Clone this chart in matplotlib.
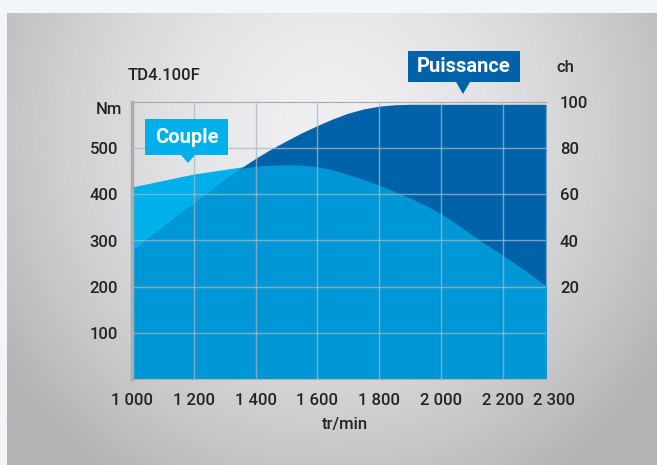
import numpy as np
import matplotlib
matplotlib.use("Agg")
import matplotlib.pyplot as plt
from matplotlib.patches import Polygon
from matplotlib.transforms import ScaledTranslation

plt.rcParams['font.family'] = ['Roboto', 'DejaVu Sans']
plt.rcParams['font.weight'] = 'medium'

# data
rpm = [1000, 1050, 1100, 1150, 1200, 1250, 1300, 1350, 1400, 1450, 1500, 1550, 1600,
       1650, 1700, 1750, 1800, 1850, 1900, 1950, 2000, 2050, 2100, 2150, 2200, 2250, 2300]
torque_nm = [416, 423, 430, 437, 444, 449, 454, 459, 461, 463, 464, 463, 460,
             453, 443, 432, 420, 406, 392, 376, 358, 336, 312, 290, 268, 236, 202]
power_ch = [35.3, 40.8, 46.0, 51.2, 56.2, 61.2, 66.3, 71.2, 75.6, 79.6, 83.2, 86.7, 89.8,
            92.7, 95.2, 97.0, 98.2, 98.8, 99, 99, 99, 99, 99, 99, 99, 99, 99]

x_ticks = [1000, 1200, 1400, 1600, 1800, 2000, 2200, 2300]
x_labels = ['1 000', '1 200', '1 400', '1 600', '1 800', '2 000', '2 200', '2 300']
nm_ticks = [100, 200, 300, 400, 500]
ch_ticks = [20, 40, 60, 80, 100]

C_TORQUE = '#00b0ea'
C_POWER = '#0063aa'
C_BOTH = '#0097d7'
TXT = '#232323'

W, H = 657, 465
fig = plt.figure(figsize=(W / 100, H / 100), dpi=100)
fig.patch.set_facecolor('#f3f6f8')

# gray gradient panel behind the chart
bg = fig.add_axes([0, 0, 1, 1], zorder=-10)
bg.set_xlim(0, W)
bg.set_ylim(H, 0)
bg.axis('off')
yy, xx = np.mgrid[14:H, 7:W]
d = np.sqrt(((xx - 330) / 360.0) ** 2 + ((yy - 130) / 380.0) ** 2)
shade = np.clip(240 - 52 * d ** 1.6, 180, 240) / 255.0
img = np.dstack([shade, shade, shade * 1.005 + 0.004])
bg.imshow(np.clip(img, 0, 1), extent=(7, W, H, 14), aspect='auto', interpolation='bilinear')


# the last column (2200 -> 2300) is drawn wider than the others
def fwd(x):
    x = np.asarray(x, dtype=float)
    return np.where(x <= 2200, x, 2200 + (x - 2200) * 1.4)


def inv(x):
    x = np.asarray(x, dtype=float)
    return np.where(x <= 2200, x, 2200 + (x - 2200) / 1.4)


ax = fig.add_axes([132 / W, 1 - 379 / H, 414 / W, 277 / H])
ax.set_facecolor('none')
ax.set_xscale('function', functions=(fwd, inv))
ax.set_xlim(1000, 2300)
ax.set_ylim(0, 600)

ax2 = ax.twinx()
ax2.set_ylim(-20, 100)

# power curve expressed on the Nm axis through the two axes transforms
fig.canvas.draw()
pts = ax2.transData.transform(np.column_stack([rpm, power_ch]))
power_on_nm = ax.transData.inverted().transform(pts)[:, 1]

ax.fill_between(rpm, 0, torque_nm, color=C_TORQUE, lw=0, zorder=1)
ax.fill_between(rpm, 0, power_on_nm, color=C_POWER, lw=0, zorder=1.1)
ax.fill_between(rpm, 0, np.minimum(torque_nm, power_on_nm), color=C_BOTH, lw=0, zorder=1.2)

ax.set_axisbelow(False)
ax.grid(True, color='#a9b6c2', alpha=0.75, lw=1)
ax.set_xticks(x_ticks)
ax.set_xticklabels(x_labels)
ax.set_yticks(nm_ticks)
ax.tick_params(length=0, labelsize=12, labelcolor=TXT)
ax.tick_params(axis='x', pad=10)
ax.tick_params(axis='y', pad=10)
ax.spines['left'].set_color('#a8a8a8')
ax.spines['left'].set_linewidth(2.5)
ax.spines['bottom'].set_color('#b0b0b0')
ax.spines['top'].set_color('#a9a9a9')
ax.spines['right'].set_visible(False)

lab = ax.get_xticklabels()[-1]
lab.set_transform(lab.get_transform() + ScaledTranslation(8 / 100, 0, fig.dpi_scale_trans))

ax2.set_yticks(ch_ticks)
ax2.tick_params(length=0, labelsize=12, labelcolor=TXT, pad=10)
for s in ax2.spines.values():
    s.set_visible(False)

fig.text(122 / W, 1 - 110 / H, 'Nm', ha='right', va='center', fontsize=12, color=TXT)
fig.text(556 / W, 1 - 68 / H, 'ch', ha='left', va='center', fontsize=12, color=TXT)
fig.text(128 / W, 1 - 76 / H, 'TD4.100F', ha='left', va='center', fontsize=12, color=TXT)
fig.text(345 / W, 1 - 424 / H, 'tr/min', ha='center', va='center', fontsize=12, color=TXT)


def callout(x0, x1, y0, y1, tip, text, color):
    tx, ty = tip
    p = [(x0, y0), (x1, y0), (x1, y1), (tx + 7, y1), (tx, ty), (tx - 7, y1), (x0, y1)]
    p = [(px / W, 1 - py / H) for px, py in p]
    fig.patches.append(Polygon(p, closed=True, transform=fig.transFigure,
                               facecolor=color, edgecolor='none', zorder=5))
    fig.text((x0 + x1) / 2 / W, 1 - (y0 + y1) / 2 / H, text, ha='center', va='center',
             fontsize=14.5, fontweight='bold', color='white', zorder=6)


callout(145, 228, 119, 155, (188, 163), 'Couple', C_TORQUE)
callout(408, 520, 51, 82, (463, 94), 'Puissance', C_POWER)

fig.savefig('out.png', dpi=100, facecolor=fig.get_facecolor())
